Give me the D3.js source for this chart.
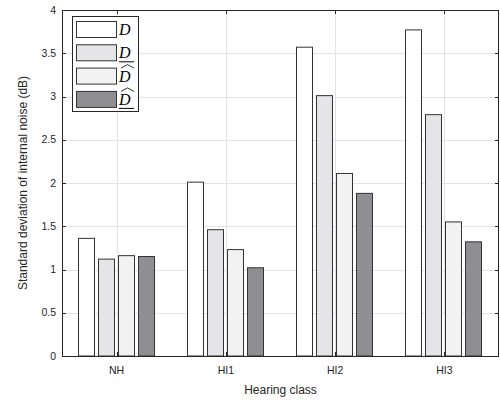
<!DOCTYPE html>
<html><head><meta charset="utf-8">
<script src="https://cdn.jsdelivr.net/npm/d3@7"></script>
<style>body{margin:0;background:#fff;} svg{display:block;}</style>
</head><body>
<svg id="c" width="500" height="401"></svg>
<script>
const categories = ["NH","HI1","HI2","HI3"];
const seriesNames = ["D","D_under","D_hat","D_hat_under"];
const valuesD      = [1.36, 2.01, 3.57, 3.77];
const valuesDUnder = [1.12, 1.46, 3.01, 2.79];
const valuesDHat   = [1.16, 1.23, 2.11, 1.55];
const valuesDHatU  = [1.15, 1.02, 1.88, 1.32];
const yTicks = [0,0.5,1,1.5,2,2.5,3,3.5,4];
const colors = ["#ffffff","#e5e5e7","#f2f2f2","#8f8f93"];

const series = [valuesD, valuesDUnder, valuesDHat, valuesDHatU];
const svg = d3.select("#c");
const L=62, R=499, T=10, B=356;
const font = "'Liberation Sans', Arial, Helvetica, sans-serif";

const x = d3.scaleBand().domain(categories).range([L,R]).paddingInner(0).paddingOuter(0);
const y = d3.scaleLinear().domain([0,4]).range([B,T]);
const groupW = 76;
const xs = d3.scaleBand().domain(d3.range(4)).range([0,groupW]).paddingInner(0.2);

// grid
const g = svg.append("g");
g.selectAll(".gy").data(yTicks).join("line")
  .attr("x1",L).attr("x2",R).attr("y1",d=>Math.round(y(d))+0.5).attr("y2",d=>Math.round(y(d))+0.5)
  .attr("stroke","#e3e3e3").attr("stroke-width",1);
g.selectAll(".gx").data(categories).join("line")
  .attr("x1",d=>Math.round(x(d)+x.bandwidth()/2)+0.5).attr("x2",d=>Math.round(x(d)+x.bandwidth()/2)+0.5)
  .attr("y1",T).attr("y2",B).attr("stroke","#e3e3e3").attr("stroke-width",1);

// bars
series.forEach((vals,si)=>{
  svg.append("g").selectAll("rect").data(vals).join("rect")
    .attr("x",(d,i)=>Math.round(x(categories[i])+x.bandwidth()/2-groupW/2+xs(si))-0.5)
    .attr("width",xs.bandwidth())
    .attr("y",d=>y(d))
    .attr("height",d=>B-y(d))
    .attr("fill",colors[si]).attr("stroke","#333").attr("stroke-width",1);
});

// axes box
const ax = svg.append("g").attr("stroke","#262626").attr("stroke-width",1).attr("fill","none");
ax.append("rect").attr("x",L+0.5).attr("y",T+0.5).attr("width",R-L-1).attr("height",B-T);
yTicks.forEach(t=>{
  const yy=Math.round(y(t))+0.5;
  ax.append("line").attr("x1",L).attr("x2",L+4).attr("y1",yy).attr("y2",yy);
  ax.append("line").attr("x1",R-4).attr("x2",R).attr("y1",yy).attr("y2",yy);
});
categories.forEach(c=>{
  const xx=Math.round(x(c)+x.bandwidth()/2)+0.5;
  ax.append("line").attr("x1",xx).attr("x2",xx).attr("y1",B).attr("y2",B-4);
  ax.append("line").attr("x1",xx).attr("x2",xx).attr("y1",T).attr("y2",T+4);
});

// tick labels
svg.append("g").selectAll("text").data(yTicks).join("text")
  .attr("x",L-6).attr("y",d=>y(d)+3.5).attr("text-anchor","end")
  .attr("font-family",font).attr("font-size",10.5).attr("fill","#262626")
  .text(d=>d3.format("")(d));
svg.append("g").selectAll("text").data(categories).join("text")
  .attr("x",d=>x(d)+x.bandwidth()/2).attr("y",B+18).attr("text-anchor","middle")
  .attr("font-family",font).attr("font-size",10.5).attr("fill","#262626")
  .text(d=>d);

svg.append("text").attr("x",(L+R)/2).attr("y",394).attr("text-anchor","middle")
  .attr("font-family",font).attr("font-size",12).attr("fill","#262626").text("Hearing class");
svg.append("text").attr("transform",`translate(27,${(T+B)/2}) rotate(-90)`).attr("text-anchor","middle")
  .attr("font-family",font).attr("font-size",12).attr("fill","#262626").text("Standard deviation of internal noise (dB)");

// legend
const lg = svg.append("g");
lg.append("rect").attr("x",72.5).attr("y",16.5).attr("width",66).attr("height",95)
  .attr("fill","#fff").attr("stroke","#262626").attr("stroke-width",1);
seriesNames.forEach((s,i)=>{
  const yy = 21 + i*23.3;
  lg.append("rect").attr("x",76.5).attr("y",yy+0.5).attr("width",40).attr("height",16)
    .attr("fill",colors[i]).attr("stroke","#333").attr("stroke-width",1);
  lg.append("text").attr("x",119).attr("y",yy+14)
    .attr("font-family","'Liberation Serif','DejaVu Serif',serif").attr("font-style","italic")
    .attr("font-size",16).attr("fill","#000").text("D");
  if (s.includes("under")) {
    lg.append("line").attr("x1",119).attr("x2",134).attr("y1",yy+17.5).attr("y2",yy+17.5)
      .attr("stroke","#000").attr("stroke-width",1);
  }
  if (s.includes("hat")) {
    lg.append("path").attr("d",`M121,${yy+0.5} L127.5,${yy-3} L134,${yy+0.5}`)
      .attr("fill","none").attr("stroke","#000").attr("stroke-width",0.8);
  }
});
</script>
</body></html>
